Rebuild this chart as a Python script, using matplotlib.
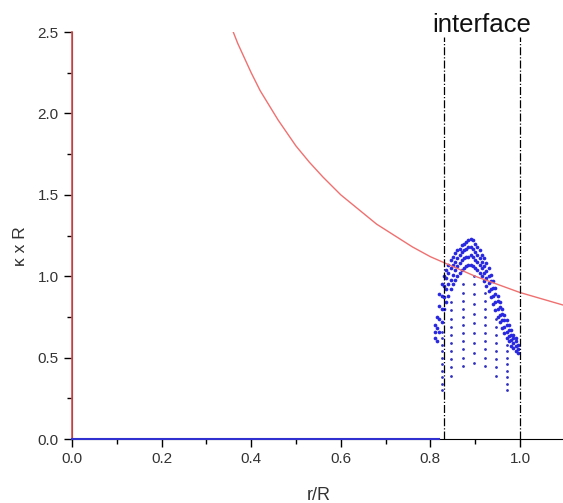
import matplotlib
matplotlib.use("Agg")
import matplotlib.pyplot as plt

plt.rcParams['font.family'] = ['Liberation Sans', 'DejaVu Sans']

# Red curve
curve_x = [0.36, 0.37, 0.38, 0.39, 0.40, 0.42, 0.44, 0.46, 0.48, 0.50, 0.53,
           0.56, 0.60, 0.64, 0.68, 0.72, 0.76, 0.80, 0.85, 0.90, 0.95, 1.00,
           1.05, 1.10]
curve_y = [2.50, 2.43, 2.37, 2.31, 2.25, 2.14, 2.05, 1.96, 1.88, 1.80, 1.70,
           1.61, 1.50, 1.41, 1.32, 1.25, 1.18, 1.12, 1.06, 1.00, 0.95, 0.90,
           0.86, 0.82]

# Dense dome of blue dots
dome_x = [0.810, 0.815, 0.820, 0.825, 0.830, 0.835, 0.840, 0.845, 0.850, 0.855,
          0.860, 0.865, 0.870, 0.875, 0.880, 0.885, 0.890, 0.895, 0.900, 0.905,
          0.910, 0.915, 0.920, 0.925, 0.930, 0.935, 0.940, 0.945, 0.950, 0.955,
          0.960, 0.965, 0.970, 0.975, 0.980, 0.985, 0.990, 0.995]
dome_y = [
    [0.62, 0.66, 0.70],
    [0.60, 0.68, 0.75],
    [0.66, 0.74, 0.82, 0.89],
    [0.72, 0.80, 0.88, 0.95],
    [0.80, 0.87, 0.94, 1.00],
    [0.84, 0.92, 0.99, 1.04],
    [0.88, 0.95, 1.02, 1.07],
    [0.92, 0.98, 1.05, 1.10],
    [0.95, 1.01, 1.07, 1.12],
    [0.98, 1.04, 1.09, 1.14],
    [1.00, 1.06, 1.11, 1.16],
    [1.02, 1.08, 1.13, 1.17],
    [1.04, 1.10, 1.15, 1.19],
    [1.05, 1.11, 1.16, 1.20],
    [1.06, 1.12, 1.17, 1.21],
    [1.07, 1.12, 1.18, 1.22],
    [1.07, 1.13, 1.18, 1.23],
    [1.06, 1.12, 1.17, 1.22],
    [1.05, 1.10, 1.15, 1.20],
    [1.04, 1.09, 1.13, 1.18],
    [1.02, 1.07, 1.11, 1.16],
    [1.00, 1.05, 1.09, 1.13],
    [0.97, 1.02, 1.06, 1.11],
    [0.94, 0.99, 1.03, 1.08],
    [0.91, 0.96, 1.00, 1.05],
    [0.87, 0.92, 0.97, 1.01],
    [0.83, 0.88, 0.93, 0.97],
    [0.79, 0.84, 0.89, 0.93],
    [0.75, 0.80, 0.85, 0.88],
    [0.72, 0.76, 0.81, 0.84],
    [0.68, 0.73, 0.77, 0.80],
    [0.65, 0.69, 0.73, 0.76],
    [0.62, 0.66, 0.70, 0.73],
    [0.60, 0.63, 0.67, 0.70],
    [0.57, 0.61, 0.64, 0.67],
    [0.56, 0.59, 0.62, 0.64],
    [0.54, 0.57, 0.60, 0.62],
    [0.53, 0.55, 0.58],
]

# Sparse vertical columns of blue dots
col_x = [0.825, 0.847, 0.872, 0.897, 0.922, 0.947, 0.972]
col_y = [
    [0.30, 0.34, 0.38, 0.42, 0.46, 0.50, 0.54, 0.58, 0.62, 0.66],
    [0.39, 0.44, 0.49, 0.54, 0.59, 0.64, 0.69, 0.74, 0.79, 0.84],
    [0.45, 0.50, 0.55, 0.60, 0.65, 0.70, 0.75, 0.80, 0.85, 0.90, 0.95],
    [0.47, 0.53, 0.59, 0.65, 0.71, 0.77, 0.83, 0.89, 0.95, 1.00],
    [0.45, 0.50, 0.55, 0.60, 0.65, 0.70, 0.75, 0.80, 0.85, 0.90],
    [0.39, 0.44, 0.49, 0.54, 0.59, 0.64, 0.69, 0.74],
    [0.30, 0.34, 0.38, 0.42, 0.46, 0.50, 0.54, 0.58],
]

interface_x = [0.83, 1.0]

x_ticks = [0.0, 0.2, 0.4, 0.6, 0.8, 1.0]
x_minor = [0.1, 0.3, 0.5, 0.7, 0.9, 1.1]
y_ticks = [0.0, 0.5, 1.0, 1.5, 2.0, 2.5]
y_minor = [0.25, 0.75, 1.25, 1.75, 2.25]

fig = plt.figure(figsize=(5.63, 5.03), dpi=100)
ax = fig.add_axes([0.1279, 0.1272, 0.8753, 0.809])

# red vertical line at r=0 and blue baseline
ax.plot([0, 0], [0, 2.5], color='#e05050', lw=1.2, zorder=3, clip_on=False)
ax.plot([0, 0.82], [0, 0], color='#3030d0', lw=1.5, zorder=3, clip_on=False)

ax.plot(curve_x, curve_y, color='#f07070', lw=1.0)

xs, ys = [], []
for x, yl in zip(dome_x, dome_y):
    for y in yl:
        xs.append(x); ys.append(y)
ax.scatter(xs, ys, s=7, color='#2828e0', marker='o', linewidths=0)
xs2, ys2 = [], []
for x, yl in zip(col_x, col_y):
    for y in yl:
        xs2.append(x); ys2.append(y)
ax.scatter(xs2, ys2, s=4, color='#3030c0', marker='o', linewidths=0)

for xv in interface_x:
    ax.plot([xv, xv], [0, 2.47], color='black', lw=0.9, ls='-.', clip_on=False)

ax.text(0.9145, 2.503, 'interface', ha='center', va='baseline', fontsize=18.5,
        color='#111111')

ax.set_xlim(0, 1.1)
ax.set_ylim(0, 2.5)
ax.spines['top'].set_visible(False)
ax.spines['right'].set_visible(False)
ax.set_xticks(x_ticks)
ax.set_xticks(x_minor, minor=True)
ax.set_yticks(y_ticks)
ax.set_yticks(y_minor, minor=True)
ax.set_xticklabels([f'{v:.1f}' for v in x_ticks])
ax.set_yticklabels([f'{v:.1f}' for v in y_ticks])
ax.tick_params(which='major', direction='out', length=6, width=1, labelsize=11,
               labelcolor='#333333')
ax.tick_params(which='minor', direction='out', length=3.5, width=1)
ax.set_xlabel('r/R', fontsize=13, color='#333333')
ax.xaxis.set_label_coords(0.5, -0.118)
ax.set_ylabel('κ x R', fontsize=12.5, color='#333333')
ax.yaxis.set_label_coords(-0.089, 0.474)

fig.savefig('out.png', dpi=100)
